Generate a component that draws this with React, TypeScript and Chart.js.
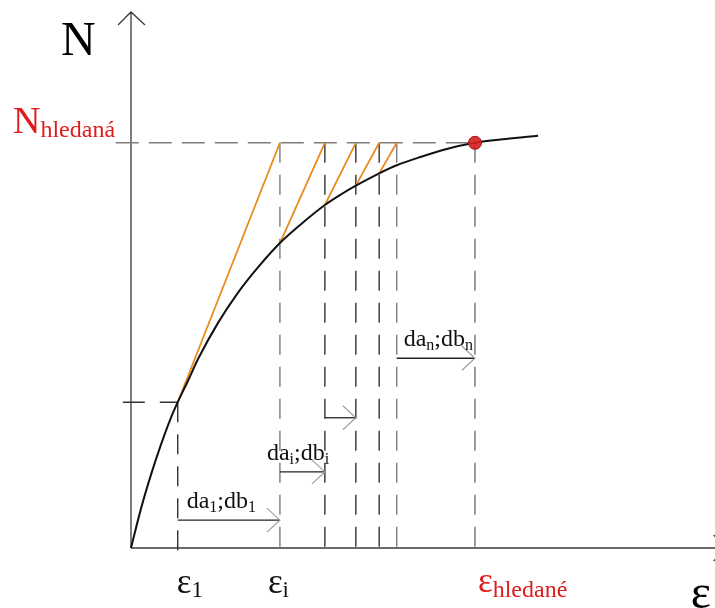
import React, { useEffect, useRef } from "react";
import { Chart, registerables } from "chart.js";

Chart.register(...registerables);

// Strain values at the iteration steps (ε1, εi, ..., εn) and the sought strain
const EPS_STEPS = [0.8, 2.55, 3.32, 3.85, 4.25, 4.55];
// Normal force on the curve where each iteration step starts
const N_STEPS = [2.72, 5.69, 6.4, 6.76, 6.99];
const EPS_TARGET = 5.89;
const N_TARGET = 7.56;

// N–ε working curve
const CURVE_EPS = [0, 0.17, 0.34, 0.51, 0.68, 0.8, 0.98, 1.15, 1.49, 1.83, 2.17, 2.55, 2.93, 3.32, 3.6, 3.85, 4.25, 4.55, 4.97, 5.39, 5.89, 6.42, 6.97];
const CURVE_N = [0, 0.73, 1.36, 1.92, 2.42, 2.72, 3.13, 3.53, 4.2, 4.76, 5.23, 5.69, 6.06, 6.4, 6.6, 6.76, 6.99, 7.14, 7.3, 7.44, 7.56, 7.63, 7.69];

// Increment arrows (da;db) between steps
const ARROW_FROM = [0.8, 2.55, 3.32, 4.55];
const ARROW_TO = [2.55, 3.32, 3.85, 5.89];
const ARROW_N = [0.52, 1.42, 2.43, 3.54];
const ARROW_SUBS = ["1", "i", "", "n"];

// Strain labels under the axis
const EPS_LABEL_SUBS = ["1", "i"];

const EPS_MAX = 10;
const N_MAX = 10;
const AXIS_EPS_END = 10.2;
const BELOW_AXIS = -0.17;

const SERIF = '"Liberation Serif", "Times New Roman", serif';
const RED = "#e01b1b";
const ORANGE = "#ea8a1c";
const DASH_GREY = "#7c7c7c";
const DASH_DARK = "#333";

type Part = [string, number, number];

function drawRich(ctx: CanvasRenderingContext2D, x: number, y: number, parts: Part[], color: string) {
  ctx.fillStyle = color;
  ctx.textBaseline = "alphabetic";
  ctx.textAlign = "left";
  let cx = x;
  for (const [t, size, dy] of parts) {
    ctx.font = `${size}px ${SERIF}`;
    ctx.fillText(t, cx, y + dy);
    cx += ctx.measureText(t).width;
  }
}

function seg(x1: number, y1: number, x2: number, y2: number) {
  return [
    { x: x1, y: y1 },
    { x: x2, y: y2 },
  ];
}

const diagramPlugin = {
  id: "diagram",
  beforeDatasetsDraw(chart: any) {
    const ctx: CanvasRenderingContext2D = chart.ctx;
    const sx = (v: number) => chart.scales.x.getPixelForValue(v);
    const sy = (v: number) => chart.scales.y.getPixelForValue(v);
    const x0 = sx(0);
    const y0 = sy(0);
    ctx.save();
    ctx.strokeStyle = "#3a3a3a";
    ctx.lineWidth = 1.3;
    // vertical axis with arrow
    const yTop = sy(N_MAX);
    ctx.beginPath();
    ctx.moveTo(x0, y0);
    ctx.lineTo(x0, yTop);
    ctx.moveTo(x0 - 13, yTop + 13);
    ctx.lineTo(x0, yTop);
    ctx.lineTo(x0 + 14, yTop + 13);
    ctx.stroke();
    // horizontal axis with arrow
    const xEnd = sx(AXIS_EPS_END);
    ctx.beginPath();
    ctx.moveTo(x0, y0);
    ctx.lineTo(xEnd, y0);
    ctx.moveTo(xEnd - 13, y0 - 13);
    ctx.lineTo(xEnd, y0);
    ctx.lineTo(xEnd - 13, y0 + 13);
    ctx.stroke();
    ctx.restore();
  },
  afterDatasetsDraw(chart: any) {
    const ctx: CanvasRenderingContext2D = chart.ctx;
    const sx = (v: number) => chart.scales.x.getPixelForValue(v);
    const sy = (v: number) => chart.scales.y.getPixelForValue(v);
    const x0 = sx(0);
    const y0 = sy(0);
    ctx.save();

    // increment arrows
    const labelDx = [9, -13, 0, 7];
    ARROW_FROM.forEach((from, i) => {
      const xa = sx(from);
      const xb = sx(ARROW_TO[i]);
      const y = sy(ARROW_N[i]);
      ctx.strokeStyle = "#222";
      ctx.lineWidth = 1.3;
      ctx.beginPath();
      ctx.moveTo(xa, y);
      ctx.lineTo(xb, y);
      ctx.stroke();
      ctx.strokeStyle = "#9a9a9a";
      ctx.lineWidth = 1.1;
      ctx.beginPath();
      ctx.moveTo(xb - 13, y - 12);
      ctx.lineTo(xb, y);
      ctx.lineTo(xb - 13, y + 12);
      ctx.stroke();
      const sub = ARROW_SUBS[i];
      if (sub) {
        drawRich(
          ctx,
          xa + labelDx[i],
          y - 12,
          [
            ["da", 24, 0],
            [sub, 16, 4],
            [";db", 24, 0],
            [sub, 16, 4],
          ],
          "#111"
        );
      }
    });

    // axis titles
    drawRich(ctx, x0 - 70, sy(N_MAX) + 43, [["N", 48, 0]], "#000");
    drawRich(ctx, sx(AXIS_EPS_END) - 36, y0 + 60, [["ε", 48, 0]], "#000");

    // sought force
    drawRich(
      ctx,
      x0 - 118,
      sy(N_TARGET) - 10,
      [
        ["N", 38, 0],
        ["hledaná", 24, 4],
      ],
      RED
    );

    // strain labels
    const epsDx = [-1, -12];
    EPS_LABEL_SUBS.forEach((sub, i) => {
      drawRich(
        ctx,
        sx(EPS_STEPS[i]) + epsDx[i],
        y0 + 45,
        [
          ["ε", 35, 0],
          [sub, 23, 4],
        ],
        "#111"
      );
    });
    drawRich(
      ctx,
      sx(EPS_TARGET) + 3,
      y0 + 44,
      [
        ["ε", 35, 0],
        ["hledané", 24, 5],
      ],
      RED
    );

    ctx.restore();
  },
};

export default function App() {
  const canvasRef = useRef<HTMLCanvasElement | null>(null);

  useEffect(() => {
    const canvas = canvasRef.current;
    if (!canvas) return;

    const line = (data: any[], color: string, width: number, dash: number[] = []) => ({
      type: "line" as const,
      data,
      borderColor: color,
      borderWidth: width,
      borderDash: dash,
      pointRadius: 0,
      fill: false,
      clip: false,
      tension: 0,
    });

    const datasets: any[] = [];

    // sought point
    datasets.push({
      type: "scatter",
      data: [{ x: EPS_TARGET, y: N_TARGET }],
      pointRadius: 6.5,
      pointBackgroundColor: "rgba(214, 32, 32, 0.9)",
      pointBorderColor: "#a31414",
      pointBorderWidth: 1,
      clip: false,
    });

    // working curve
    datasets.push({
      ...line(
        CURVE_EPS.map((e, i) => ({ x: e, y: CURVE_N[i] })),
        "#111",
        2
      ),
      cubicInterpolationMode: "monotone",
    });

    // secant steps of the iteration
    N_STEPS.forEach((n, i) => {
      datasets.push(line(seg(EPS_STEPS[i], n, EPS_STEPS[i + 1], N_TARGET), ORANGE, 1.8));
    });

    // dashed guides
    datasets.push(line(seg(-0.26, N_TARGET, EPS_TARGET, N_TARGET), DASH_GREY, 1.6, [23, 10]));
    datasets.push(line(seg(-0.14, N_STEPS[0], EPS_STEPS[0], N_STEPS[0]), DASH_DARK, 1.4, [22, 15]));
    datasets.push(line(seg(EPS_STEPS[0], N_STEPS[0], EPS_STEPS[0], BELOW_AXIS), DASH_DARK, 1.4, [20, 12]));
    EPS_STEPS.slice(1).forEach((e, i) => {
      const color = i === 0 || i === 4 ? DASH_GREY : DASH_DARK;
      datasets.push(line(seg(e, N_TARGET, e, BELOW_AXIS), color, 1.4, [20, 12]));
    });
    datasets.push(line(seg(EPS_TARGET, N_TARGET, EPS_TARGET, BELOW_AXIS), DASH_GREY, 1.5, [20, 12]));

    const chart = new Chart(canvas, {
      type: "line",
      data: { datasets },
      options: {
        animation: false,
        responsive: false,
        maintainAspectRatio: false,
        layout: { autoPadding: false, padding: { left: 131, right: 0, top: 12, bottom: 60 } },
        plugins: { legend: { display: false }, tooltip: { enabled: false } },
        events: [],
        scales: {
          x: { type: "linear", min: 0, max: EPS_MAX, display: false },
          y: { type: "linear", min: 0, max: N_MAX, display: false },
        },
      },
      plugins: [diagramPlugin],
    } as any);

    return () => chart.destroy();
  }, []);

  return (
    <div style={{ position: "absolute", left: 0, top: 0, width: 715, height: 608, background: "#fff" }}>
      <canvas ref={canvasRef} width={715} height={608} style={{ display: "block", width: 715, height: 608 }} />
    </div>
  );
}
